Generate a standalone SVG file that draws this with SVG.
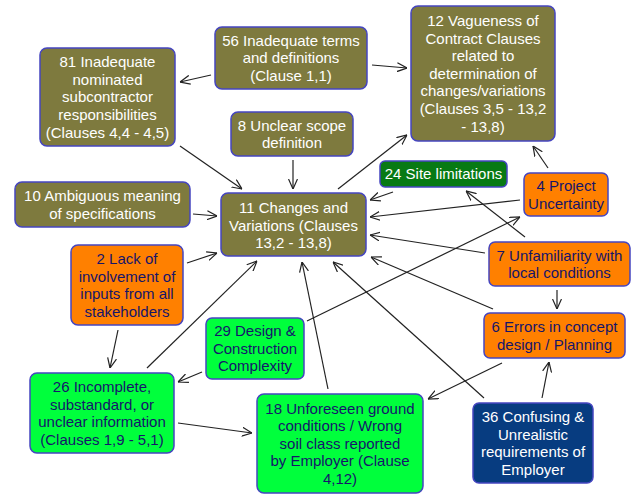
<svg xmlns="http://www.w3.org/2000/svg" width="635" height="496" viewBox="0 0 635 496">
<defs>
<marker id="arr" viewBox="0 0 10 10" refX="10" refY="5" markerWidth="10" markerHeight="10" markerUnits="userSpaceOnUse" orient="auto">
<path d="M0,0.5 L10,5 L0,9.5" fill="none" stroke="#222" stroke-width="1.2"/>
</marker>
</defs>
<style>
g rect{stroke:#4545c0;stroke-width:1.5}
.ol rect{fill:#7e7a3e}
.or rect{fill:#ff8000}
.gr rect{fill:#00ff3c}
.dg rect{fill:#087a14}
.nv rect{fill:#073c80}
text{font-family:"Liberation Sans",Arial,sans-serif;font-size:15px;text-anchor:middle}
.ol text,.dg text,.nv text{fill:#ffffff}
.or text,.gr text{fill:#15156a}
#edges line{stroke:#222;stroke-width:1.2;marker-end:url(#arr)}
</style>
<g id="edges">
<line x1="211" y1="75" x2="180" y2="82"/>
<line x1="372" y1="65" x2="407" y2="68"/>
<line x1="180" y1="146" x2="242" y2="189"/>
<line x1="293" y1="160" x2="293" y2="189"/>
<line x1="193" y1="214" x2="217" y2="216"/>
<line x1="338" y1="189" x2="407" y2="135"/>
<line x1="393" y1="192" x2="370" y2="200"/>
<line x1="520" y1="200" x2="370" y2="217"/>
<line x1="548" y1="168" x2="533" y2="146"/>
<line x1="485" y1="253" x2="370" y2="235"/>
<line x1="525" y1="237" x2="466" y2="191"/>
<line x1="307" y1="321" x2="520" y2="217"/>
<line x1="557" y1="290" x2="557" y2="309"/>
<line x1="493" y1="309" x2="371" y2="257"/>
<line x1="484" y1="398" x2="333" y2="262"/>
<line x1="542" y1="398" x2="549" y2="362"/>
<line x1="502" y1="363" x2="428" y2="399"/>
<line x1="328" y1="389" x2="302" y2="262"/>
<line x1="147" y1="368" x2="257" y2="261"/>
<line x1="187" y1="263" x2="217" y2="253"/>
<line x1="118" y1="330" x2="110" y2="368"/>
<line x1="202" y1="372" x2="178" y2="382"/>
<line x1="178" y1="423" x2="252" y2="433"/>
</g>
<g id="n81" class="ol"><rect x="40" y="48" width="135" height="98" rx="7"/>
<text x="107.5" y="67.1">81 Inadequate</text><text x="107.5" y="84.7">nominated</text><text x="107.5" y="102.3">subcontractor</text><text x="107.5" y="119.9">responsibilities</text><text x="107.5" y="137.5">(Clauses 4,4 - 4,5)</text></g>
<g id="n56" class="ol"><rect x="215" y="27" width="152" height="62" rx="7"/>
<text x="291" y="45.7">56 Inadequate terms</text><text x="291" y="63.3">and definitions</text><text x="291" y="80.9">(Clause 1,1)</text></g>
<g id="n12" class="ol"><rect x="411" y="6" width="144" height="135" rx="7"/>
<text x="483" y="26">12 Vagueness of</text><text x="483" y="43.6">Contract Clauses</text><text x="483" y="61.2">related to</text><text x="483" y="78.8">determination of</text><text x="483" y="96.4">changes/variations</text><text x="483" y="114">(Clauses 3,5 - 13,2</text><text x="483" y="131.6">- 13,8)</text></g>
<g id="n8" class="ol"><rect x="231" y="112" width="122" height="44" rx="7"/>
<text x="292" y="130.5">8 Unclear scope</text><text x="292" y="148.1">definition</text></g>
<g id="n10" class="ol"><rect x="15" y="182" width="175" height="45" rx="7"/>
<text x="102.5" y="201">10 Ambiguous meaning</text><text x="102.5" y="218.6">of specifications</text></g>
<g id="n11" class="ol"><rect x="221" y="193" width="145" height="63" rx="7"/>
<text x="293.5" y="213">11 Changes and</text><text x="293.5" y="230.5">Variations (Clauses</text><text x="293.5" y="248">13,2 - 13,8)</text></g>
<g id="n24" class="dg"><rect x="380" y="161" width="127" height="26" rx="5"/>
<text x="443.5" y="179.3">24 Site limitations</text></g>
<g id="n4" class="or"><rect x="524" y="173" width="84" height="43" rx="6"/>
<text x="566" y="191">4 Project</text><text x="566" y="208.6">Uncertainty</text></g>
<g id="n7" class="or"><rect x="489" y="242" width="141" height="44" rx="6"/>
<text x="559.5" y="260.5">7 Unfamiliarity with</text><text x="559.5" y="278.1">local conditions</text></g>
<g id="n6" class="or"><rect x="484" y="313" width="141" height="45" rx="6"/>
<text x="554.5" y="332">6 Errors in concept</text><text x="554.5" y="349.6">design / Planning</text></g>
<g id="n36" class="nv"><rect x="473" y="403" width="120" height="80" rx="6"/>
<text x="533" y="421.9">36 Confusing &amp;</text><text x="533" y="439.5">Unrealistic</text><text x="533" y="457.1">requirements of</text><text x="533" y="474.7">Employer</text></g>
<g id="n18" class="gr"><rect x="257" y="394" width="166" height="99" rx="7"/>
<text x="340" y="413.6">18 Unforeseen ground</text><text x="340" y="431.2">conditions / Wrong</text><text x="340" y="448.8">soil class reported</text><text x="340" y="466.4">by Employer (Clause</text><text x="340" y="484">4,12)</text></g>
<g id="n29" class="gr"><rect x="206" y="318" width="98" height="61" rx="6"/>
<text x="255" y="336.2">29 Design &amp;</text><text x="255" y="353.8">Construction</text><text x="255" y="371.4">Complexity</text></g>
<g id="n26" class="gr"><rect x="30" y="373" width="144" height="80" rx="7"/>
<text x="102" y="391.9">26 Incomplete,</text><text x="102" y="409.5">substandard, or</text><text x="102" y="427.1">unclear information</text><text x="102" y="444.7">(Clauses 1,9 - 5,1)</text></g>
<g id="n2" class="or"><rect x="71" y="245" width="112" height="80" rx="7"/>
<text x="127" y="263.9">2 Lack of</text><text x="127" y="281.5">involvement of</text><text x="127" y="299.1">inputs from all</text><text x="127" y="316.7">stakeholders</text></g>
</svg>
